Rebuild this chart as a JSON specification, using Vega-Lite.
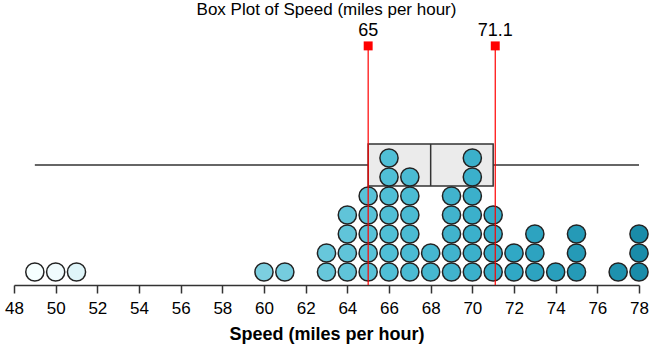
{
  "$schema": "https://vega.github.io/schema/vega-lite/v6.json",
  "autosize": {"type": "none"},
  "width": 625,
  "height": 265,
  "padding": {"left": 14, "right": 15, "top": 20, "bottom": 69},
  "background": "white",
  "title": {"text": "Box Plot of Speed (miles per hour)", "font": "Liberation Sans", "fontSize": 17, "fontWeight": "normal", "color": "black", "anchor": "middle", "offset": 1},
  "config": {
    "view": {"stroke": null},
    "axisX": {
      "grid": false,
      "domainColor": "#333333",
      "domainWidth": 1.5,
      "tickColor": "#333333",
      "tickWidth": 1.5,
      "tickSize": 8,
      "labelFont": "Liberation Sans",
      "labelFontSize": 17,
      "labelColor": "black",
      "labelPadding": 7,
      "labelFlush": false,
      "titleFont": "Liberation Sans",
      "titleFontSize": 18,
      "titleFontWeight": "bold",
      "titleColor": "black",
      "titlePadding": 9
    }
  },
  "data": {"values": [
      {"speed": 49}, {"speed": 50}, {"speed": 51}, {"speed": 60}, {"speed": 61},
      {"speed": 63}, {"speed": 63},
      {"speed": 64}, {"speed": 64}, {"speed": 64}, {"speed": 64},
      {"speed": 65}, {"speed": 65}, {"speed": 65}, {"speed": 65}, {"speed": 65},
      {"speed": 66}, {"speed": 66}, {"speed": 66}, {"speed": 66}, {"speed": 66}, {"speed": 66}, {"speed": 66},
      {"speed": 67}, {"speed": 67}, {"speed": 67}, {"speed": 67}, {"speed": 67}, {"speed": 67},
      {"speed": 68}, {"speed": 68},
      {"speed": 69}, {"speed": 69}, {"speed": 69}, {"speed": 69}, {"speed": 69},
      {"speed": 70}, {"speed": 70}, {"speed": 70}, {"speed": 70}, {"speed": 70}, {"speed": 70}, {"speed": 70},
      {"speed": 71}, {"speed": 71}, {"speed": 71}, {"speed": 71},
      {"speed": 72}, {"speed": 72},
      {"speed": 73}, {"speed": 73}, {"speed": 73},
      {"speed": 74},
      {"speed": 75}, {"speed": 75}, {"speed": 75},
      {"speed": 77},
      {"speed": 78}, {"speed": 78}, {"speed": 78}
  ]},
  "layer": [
    {
      "mark": {"type": "rule", "color": "#333333", "strokeWidth": 1.5},
      "encoding": {
        "x": {"field": "speed", "aggregate": "min", "type": "quantitative", "axis": {"title": "Speed (miles per hour)", "values": [48, 50, 52, 54, 56, 58, 60, 62, 64, 66, 68, 70, 72, 74, 76, 78]}},
        "x2": {"field": "speed", "aggregate": "max"},
        "y": {"datum": 6.63, "type": "quantitative", "axis": null}
      }
    },
    {
      "mark": {"type": "rect", "fill": "#ebebeb", "stroke": "#333333", "strokeWidth": 1.5},
      "encoding": {
        "x": {"field": "speed", "aggregate": "q1", "type": "quantitative", "axis": {"title": "Speed (miles per hour)", "values": [48, 50, 52, 54, 56, 58, 60, 62, 64, 66, 68, 70, 72, 74, 76, 78]}},
        "x2": {"field": "speed", "aggregate": "q3"},
        "y": {"datum": 5.53, "type": "quantitative", "axis": null},
        "y2": {"datum": 7.74}
      }
    },
    {
      "mark": {"type": "rule", "color": "#333333", "strokeWidth": 1.5},
      "encoding": {
        "x": {"field": "speed", "aggregate": "median", "type": "quantitative", "axis": {"title": "Speed (miles per hour)", "values": [48, 50, 52, 54, 56, 58, 60, 62, 64, 66, 68, 70, 72, 74, 76, 78]}},
        "y": {"datum": 5.53, "type": "quantitative", "axis": null},
        "y2": {"datum": 7.74}
      }
    },
    {
      "mark": {"type": "point", "filled": true, "size": 330, "stroke": "#222222", "strokeWidth": 1.5, "opacity": 1},
      "transform": [
        {"window": [{"op": "row_number", "as": "level"}], "groupby": ["speed"]}
      ],
      "encoding": {
        "x": {
          "field": "speed", "type": "quantitative",
          "scale": {"domain": [48, 78], "nice": false, "zero": false},
          "axis": {"title": "Speed (miles per hour)", "values": [48, 50, 52, 54, 56, 58, 60, 62, 64, 66, 68, 70, 72, 74, 76, 78]}
        },
        "y": {
          "field": "level", "type": "quantitative",
          "scale": {"domain": [0.316, 14.263], "nice": false, "zero": false},
          "axis": null
        },
        "fill": {
          "field": "speed", "type": "quantitative",
          "scale": {"domain": [49, 50, 51, 60, 66, 72, 78], "range": ["#ffffff", "#f0fbfd", "#dff5f9", "#7ccfe0", "#50bfd6", "#30a8c5", "#1a8ca9"]},
          "legend": null
        }
      }
    },
    {
      "data": {"values": [{"value": 65, "label": "65"}, {"value": 71.1, "label": "71.1"}]},
      "mark": {"type": "rule", "color": "#ff0000", "strokeWidth": 1.2},
      "encoding": {
        "x": {"field": "value", "type": "quantitative", "axis": {"title": "Speed (miles per hour)", "values": [48, 50, 52, 54, 56, 58, 60, 62, 64, 66, 68, 70, 72, 74, 76, 78]}},
        "y": {"datum": 0.316, "type": "quantitative", "axis": null},
        "y2": {"datum": 12.9}
      }
    },
    {
      "data": {"values": [{"value": 65, "label": "65"}, {"value": 71.1, "label": "71.1"}]},
      "mark": {"type": "square", "filled": true, "color": "#ff0000", "size": 80, "opacity": 1},
      "encoding": {
        "x": {"field": "value", "type": "quantitative", "axis": {"title": "Speed (miles per hour)", "values": [48, 50, 52, 54, 56, 58, 60, 62, 64, 66, 68, 70, 72, 74, 76, 78]}},
        "y": {"datum": 12.9, "type": "quantitative", "axis": null}
      }
    },
    {
      "data": {"values": [{"value": 65, "label": "65"}, {"value": 71.1, "label": "71.1"}]},
      "mark": {"type": "text", "font": "Liberation Sans", "fontSize": 18, "color": "black", "baseline": "alphabetic", "align": "center"},
      "encoding": {
        "x": {"field": "value", "type": "quantitative", "axis": {"title": "Speed (miles per hour)", "values": [48, 50, 52, 54, 56, 58, 60, 62, 64, 66, 68, 70, 72, 74, 76, 78]}},
        "y": {"datum": 13.4, "type": "quantitative", "axis": null},
        "text": {"field": "label", "type": "nominal"}
      }
    }
  ]
}
